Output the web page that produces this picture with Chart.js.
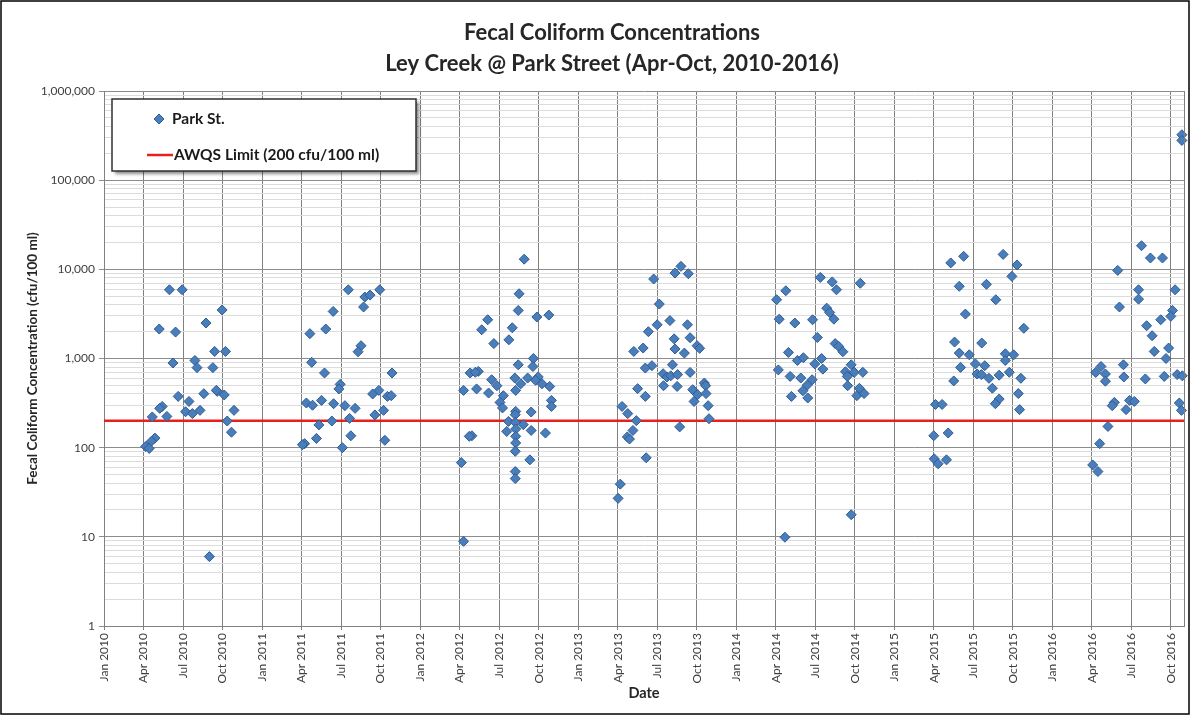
<!DOCTYPE html>
<html>
<head>
<meta charset="utf-8">
<script src="https://cdn.jsdelivr.net/npm/chart.js@4.4.1/dist/chart.umd.min.js"></script>
<style>
  html, body { margin: 0; padding: 0; background: #ffffff; }
  #wrap { width: 1190px; height: 715px; position: relative; }
</style>
</head>
<body>
<div id="wrap"><canvas id="chart" width="1190" height="715"></canvas></div>
<script>
// ---------------- data ----------------
const chartTitle = ['Fecal Coliform Concentrations', 'Ley Creek @ Park Street (Apr-Oct, 2010-2016)'];
const seriesName = 'Park St.';
const limitName = 'AWQS Limit (200 cfu/100 ml)';
const awqsLimit = 200;
const axisStart = '2010-01-01';
const axisEnd = '2016-11-01';
const tickMonthNames = ['Jan', 'Apr', 'Jul', 'Oct'];
const tickYears = [2010, 2011, 2012, 2013, 2014, 2015, 2016];
const yDecades = [1, 10, 100, 1000, 10000, 100000, 1000000];

const sampleDates = [
  // 2010
  '2010-05-31','2010-06-29','2010-09-30','2010-08-24','2010-05-07','2010-06-14','2010-06-08','2010-07-29',
  '2010-08-03','2010-09-09','2010-09-13','2010-10-08','2010-06-20','2010-07-15','2010-08-19','2010-09-19',
  '2010-10-05','2010-05-14','2010-05-08','2010-07-07','2010-07-23','2010-08-10','2010-04-21','2010-05-25',
  '2010-10-28','2010-10-12','2010-10-22','2010-04-27','2010-04-19','2010-04-06','2010-04-14','2010-09-01',
  '2010-09-17',
  // 2011
  '2011-07-18','2011-08-26','2011-09-07','2011-09-29','2011-08-23','2011-06-13','2011-04-20','2011-05-27',
  '2011-08-17','2011-08-10','2011-04-24','2011-05-24','2011-10-28','2011-06-29','2011-06-26','2011-09-13',
  '2011-09-27','2011-10-17','2011-10-26','2011-04-12','2011-04-26','2011-05-17','2011-06-14','2011-07-10',
  '2011-08-03','2011-10-08','2011-09-18','2011-07-21','2011-06-10','2011-05-11','2011-05-05','2011-07-24',
  '2011-04-08','2011-04-03','2011-07-04','2011-10-11',
  // 2012
  '2012-08-29','2012-08-17','2012-08-15','2012-09-27','2012-10-25','2012-06-05','2012-05-22','2012-08-01',
  '2012-07-24','2012-06-19','2012-09-19','2012-09-18','2012-08-15','2012-04-25','2012-05-14','2012-05-07',
  '2012-06-14','2012-06-26','2012-08-07','2012-08-21','2012-09-06','2012-09-30','2012-09-24','2012-10-09',
  '2012-10-27','2012-04-10','2012-05-10','2012-06-07','2012-08-09','2012-07-11','2012-07-03','2012-07-09',
  '2012-10-31','2012-10-31','2012-08-09','2012-08-08','2012-09-14','2012-07-23','2012-08-08','2012-08-27',
  '2012-07-19','2012-08-09','2012-09-14','2012-10-17','2012-04-29','2012-04-23','2012-08-09','2012-08-09',
  '2012-08-08','2012-04-05','2012-09-11','2012-08-08','2012-08-08','2012-04-10',
  // 2013
  '2013-08-26','2013-08-12','2013-09-12','2013-06-23','2013-07-06','2013-07-31','2013-07-01','2013-09-10',
  '2013-06-11','2013-08-10','2013-09-16','2013-05-30','2013-05-08','2013-08-12','2013-09-03','2013-10-02',
  '2013-10-08','2013-08-06','2013-06-19','2013-06-04','2013-09-16','2013-07-15','2013-07-24','2013-08-02',
  '2013-08-18','2013-07-16','2013-08-17','2013-10-19','2013-10-22','2013-05-17','2013-09-22','2013-10-03',
  '2013-10-23','2013-06-04','2013-09-25','2013-10-28','2013-04-11','2013-04-24','2013-10-30','2013-05-14',
  '2013-08-23','2013-05-06','2013-04-23','2013-04-28','2013-06-06','2013-04-07','2013-04-02',
  // 2014
  '2014-07-13','2014-08-10','2014-08-20','2014-10-14','2014-04-24','2014-04-03','2014-07-28','2014-08-04',
  '2014-08-14','2014-04-09','2014-05-15','2014-06-25','2014-07-06','2014-08-17','2014-08-25','2014-09-04',
  '2014-04-30','2014-05-21','2014-06-04','2014-07-16','2014-06-30','2014-07-19','2014-04-07','2014-09-23',
  '2014-09-10','2014-09-30','2014-10-20','2014-09-14','2014-05-04','2014-05-29','2014-06-24','2014-06-13',
  '2014-06-03','2014-09-15','2014-10-12','2014-10-06','2014-10-23','2014-05-07','2014-06-14','2014-09-23',
  '2014-04-22',
  // 2015
  '2015-06-09','2015-05-10','2015-09-09','2015-10-11','2015-09-29','2015-05-30','2015-08-01','2015-08-23',
  '2015-06-13','2015-10-27','2015-05-19','2015-07-21','2015-05-30','2015-06-22','2015-09-14','2015-10-03',
  '2015-09-14','2015-07-06','2015-07-28','2015-06-02','2015-09-23','2015-07-10','2015-07-20','2015-08-07',
  '2015-08-31','2015-10-20','2015-05-17','2015-08-15','2015-10-14','2015-08-31','2015-08-22','2015-10-17',
  '2015-04-05','2015-04-20','2015-05-04','2015-04-01','2015-04-02','2015-04-11','2015-04-30',
  // 2016
  '2016-10-27','2016-10-27','2016-07-25','2016-08-15','2016-09-12','2016-05-31','2016-07-18','2016-07-18',
  '2016-10-11','2016-06-04','2016-10-05','2016-10-01','2016-09-08','2016-08-06','2016-08-19','2016-08-24',
  '2016-09-26','2016-09-20','2016-04-22','2016-06-13','2016-04-10','2016-05-02','2016-05-02','2016-06-14',
  '2016-08-03','2016-09-16','2016-10-16','2016-10-28','2016-05-23','2016-05-18','2016-06-27','2016-07-08',
  '2016-06-19','2016-10-21','2016-10-26','2016-05-08','2016-04-19','2016-04-03','2016-04-15'
];

const fecalColiform = [
  // 2010
  5900, 5900, 3500, 2500, 2140, 1980, 890, 950,
  790, 790, 1200, 1200, 376, 330, 403, 428,
  390, 290, 276, 253, 241, 262, 221, 224,
  262, 199, 149, 128, 118, 103, 98, 6,
  440,
  // 2011
  5900, 4890, 5140, 5900, 3780, 3370, 1900, 2140,
  1390, 1190, 906, 688, 688, 513, 456, 400,
  439, 376, 383, 317, 299, 339, 311, 296,
  276, 262, 233, 213, 199, 180, 127, 136,
  111, 108, 100, 121,
  // 2012
  13000, 5320, 3460, 2920, 3070, 2720, 2100, 2210,
  1620, 1470, 1000, 813, 850, 688, 717, 700,
  578, 495, 604, 521, 604, 621, 570, 521,
  486, 439, 456, 410, 439, 383, 322, 279,
  339, 290, 255, 234, 251, 197, 192, 181,
  152, 162, 156, 146, 136, 134, 134, 113,
  91, 68, 73, 54, 45, 8.9,
  // 2013
  10800, 9080, 8930, 7790, 4080, 2660, 2390, 2390,
  2000, 1660, 1710, 1310, 1200, 1280, 1150, 1390,
  1300, 850, 830, 781, 698, 675, 620, 640,
  660, 495, 486, 531, 495, 459, 447, 393,
  404, 376, 330, 296, 290, 241, 211, 201,
  171, 156, 132, 125, 77, 39, 27,
  // 2014
  8120, 7230, 5900, 6980, 5750, 4560, 3670, 3280,
  2760, 2760, 2500, 2720, 1720, 1470, 1370, 1190,
  1170, 950, 1020, 1000, 870, 760, 745, 850,
  710, 700, 700, 630, 630, 604, 578, 504,
  435, 495, 463, 383, 404, 376, 361, 17.7,
  9.9,
  // 2015
  14000, 11800, 14700, 11200, 8340, 6450, 6790, 4560,
  3150, 2180, 1530, 1490, 1150, 1100, 1130, 1100,
  950, 870, 830, 795, 700, 670, 660, 600,
  650, 600, 560, 464, 404, 351, 311, 267,
  305, 305, 146, 136, 75, 66, 73,
  // 2016
  323000, 279000, 18400, 13400, 13400, 9730, 5900, 4630,
  5900, 3780, 3460, 2970, 2720, 2330, 1800, 1200,
  1310, 1000, 813, 850, 698, 670, 556, 621,
  590, 630, 660, 640, 322, 296, 339, 330,
  267, 317, 262, 173, 111, 64, 54
];

// ---------------- helpers ----------------
function monthIndex(dateStr) {
  const [y, m, d] = dateStr.split('-').map(Number);
  const dim = new Date(y, m, 0).getDate();
  return (y - 2010) * 12 + (m - 1) + (d - 1) / dim;
}
const xMin = monthIndex(axisStart);
const xMax = monthIndex(axisEnd);
const tickPositions = [];
const tickLabels = [];
tickYears.forEach(yr => tickMonthNames.forEach((mn, q) => {
  const v = (yr - 2010) * 12 + q * 3;
  if (v <= xMax) { tickPositions.push(v); tickLabels.push(mn + ' ' + yr); }
}));
const yTickValues = [];
yDecades.forEach(d => {
  if (d === 1000000) { yTickValues.push(d); return; }
  for (let k = 1; k <= 9; k++) yTickValues.push(k * d);
});
const isDecade = v => yDecades.some(d => Math.abs(d - v) < 1e-9 * d);

const scatterPoints = sampleDates.map((d, i) => ({ x: monthIndex(d), y: fecalColiform[i] }));
const limitLine = [{ x: xMin, y: awqsLimit }, { x: xMax, y: awqsLimit }];

const FONT = 'Lato, "Open Sans", "DejaVu Sans", sans-serif';
const POINT_FILL = '#4A7EBB';
const POINT_EDGE = '#2F5C94';
const LIMIT_COLOR = '#E8201C';

// ---------------- plugin: titles, frame, legend ----------------
const decorPlugin = {
  id: 'decor',
  beforeDraw(chart) {
    const ctx = chart.ctx;
    ctx.save();
    ctx.fillStyle = '#ffffff';
    ctx.fillRect(0, 0, chart.width, chart.height);
    ctx.restore();
  },
  afterDraw(chart) {
    const ctx = chart.ctx;
    const a = chart.chartArea;
    ctx.save();
    // plot border right
    ctx.strokeStyle = '#7f7f7f';
    ctx.lineWidth = 1;
    ctx.beginPath();
    ctx.moveTo(Math.round(a.right) + 0.5, a.top);
    ctx.lineTo(Math.round(a.right) + 0.5, a.bottom);
    ctx.stroke();

    // titles
    ctx.fillStyle = '#262626';
    ctx.font = 'bold 22px ' + FONT;
    ctx.textAlign = 'center';
    ctx.textBaseline = 'middle';
    ctx.fillText(chartTitle[0], 612, 33);
    ctx.fillText(chartTitle[1], 612, 64);

    // legend box
    const lx = 112, ly = 99, lw = 304, lh = 72;
    ctx.save();
    ctx.shadowColor = 'rgba(0,0,0,0.45)';
    ctx.shadowOffsetX = 3;
    ctx.shadowOffsetY = 3;
    ctx.shadowBlur = 3;
    ctx.fillStyle = '#ffffff';
    ctx.fillRect(lx, ly, lw, lh);
    ctx.restore();
    ctx.strokeStyle = '#303030';
    ctx.lineWidth = 1.5;
    ctx.strokeRect(lx, ly, lw, lh);

    // legend items
    const cx = 159, cy = 119, r = 5;
    ctx.fillStyle = POINT_FILL;
    ctx.strokeStyle = POINT_EDGE;
    ctx.lineWidth = 1;
    ctx.beginPath();
    ctx.moveTo(cx, cy - r); ctx.lineTo(cx + r, cy); ctx.lineTo(cx, cy + r); ctx.lineTo(cx - r, cy);
    ctx.closePath(); ctx.fill(); ctx.stroke();

    ctx.strokeStyle = LIMIT_COLOR;
    ctx.lineWidth = 2.5;
    ctx.beginPath();
    ctx.moveTo(147, 155); ctx.lineTo(173, 155);
    ctx.stroke();

    ctx.fillStyle = '#1a1a1a';
    ctx.font = 'bold 15.5px ' + FONT;
    ctx.textAlign = 'left';
    ctx.textBaseline = 'middle';
    ctx.fillText(seriesName, 172, 119);
    ctx.fillText(limitName, 174, 155);

    // outer frame
    ctx.strokeStyle = '#000000';
    ctx.lineWidth = 1.5;
    ctx.strokeRect(1, 1, chart.width - 2, chart.height - 2);
    ctx.restore();
  }
};

// ---------------- chart ----------------
new Chart(document.getElementById('chart'), {
  type: 'scatter',
  data: {
    datasets: [
      {
        label: seriesName,
        data: scatterPoints,
        pointStyle: 'rectRot',
        pointRadius: 5,
        pointHoverRadius: 5,
        backgroundColor: POINT_FILL,
        borderColor: POINT_EDGE,
        borderWidth: 1,
        showLine: false,
        clip: false,
        order: 0
      },
      {
        type: 'line',
        label: limitName,
        data: limitLine,
        borderColor: LIMIT_COLOR,
        borderWidth: 2.5,
        pointRadius: 0,
        fill: false,
        order: 1
      }
    ]
  },
  options: {
    responsive: false,
    animation: false,
    events: [],
    layout: { padding: { left: 0, top: 91, right: 2, bottom: 0 } },
    plugins: {
      legend: { display: false },
      title: { display: false },
      tooltip: { enabled: false }
    },
    scales: {
      x: {
        type: 'linear',
        min: xMin,
        max: xMax,
        afterBuildTicks: s => { s.ticks = tickPositions.map(v => ({ value: v })); },
        afterFit: s => { s.height = 89; },
        ticks: {
          autoSkip: false,
          maxRotation: 90,
          minRotation: 90,
          padding: 3,
          color: '#404040',
          font: { family: FONT, size: 12 },
          callback: v => {
            const i = tickPositions.indexOf(v);
            return i >= 0 ? tickLabels[i] : '';
          }
        },
        grid: { color: '#808080', lineWidth: 1, tickLength: 4, tickColor: '#808080' },
        border: { color: '#808080', width: 1 },
        title: {
          display: true,
          text: 'Date',
          color: '#262626',
          font: { family: FONT, size: 14.5, weight: 'bold' },
          padding: { top: 0, bottom: 13 }
        }
      },
      y: {
        type: 'logarithmic',
        min: 1,
        max: 1000000,
        afterBuildTicks: s => { s.ticks = yTickValues.map(v => ({ value: v, major: isDecade(v) })); },
        afterFit: s => { s.width = 104; },
        ticks: {
          autoSkip: false,
          padding: 4,
          color: '#404040',
          font: { family: FONT, size: 12 },
          callback: v => isDecade(v) ? Math.round(v).toLocaleString('en-US') : ''
        },
        grid: {
          color: c => (c.tick && isDecade(c.tick.value)) ? '#8c8c8c' : '#dcdcdc',
          lineWidth: 1,
          tickLength: 5,
          tickColor: c => (c.tick && isDecade(c.tick.value)) ? '#8c8c8c' : 'rgba(0,0,0,0)'
        },
        border: { color: '#808080', width: 1 },
        title: {
          display: true,
          text: 'Fecal Coliform Concentration (cfu/100 ml)',
          color: '#262626',
          font: { family: FONT, size: 13.5, weight: 'bold' },
          padding: { top: 25, bottom: 0 }
        }
      }
    }
  },
  plugins: [decorPlugin]
});
</script>
</body>
</html>
